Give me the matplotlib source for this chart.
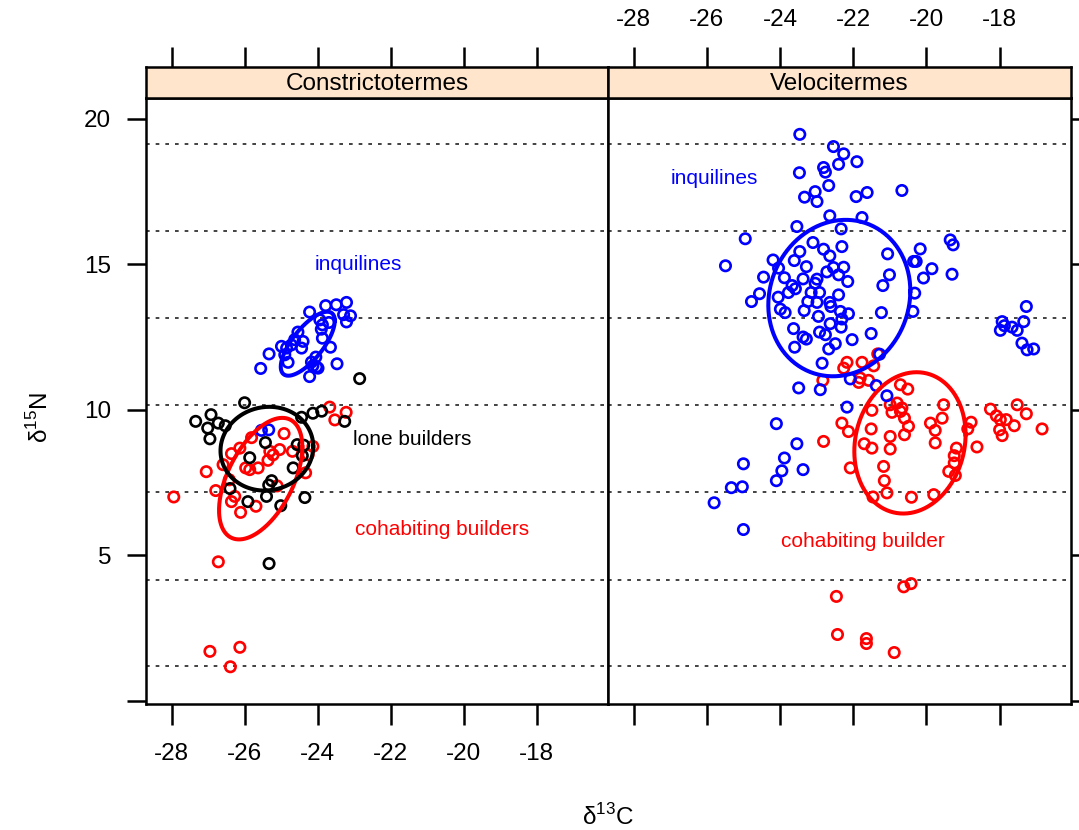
import numpy as np
import matplotlib
matplotlib.use('Agg')
import matplotlib.pyplot as plt

plt.rcParams['font.family'] = ['Liberation Sans', 'DejaVu Sans']
plt.rcParams['mathtext.fontset'] = 'custom'
plt.rcParams['mathtext.rm'] = 'Liberation Sans'
plt.rcParams['axes.unicode_minus'] = False

# ── Data (d13C, d15N) ─────────────────────────────────────────────────────────
# Constrictotermes
con_inq_x = [-23.21, -23.49, -23.78, -24.22, -23.29, -23.10, -23.21, -23.94, -23.87, -23.90,
             -23.69, -24.54, -24.63, -23.87, -24.40, -24.72, -24.99, -24.85, -24.44, -23.65,
             -25.33, -24.90, -24.05, -24.17, -24.81, -23.47, -25.56, -24.03, -24.13, -23.99,
             -24.22, -25.54, -25.34]
con_inq_y = [13.69, 13.61, 13.58, 13.36, 13.27, 13.23, 13.02, 13.09, 12.92, 12.77,
             13.00, 12.67, 12.41, 12.46, 12.35, 12.23, 12.18, 12.12, 12.12, 12.15,
             11.92, 11.89, 11.81, 11.64, 11.63, 11.58, 11.42, 11.47, 11.51, 11.43,
             11.14, 9.29, 9.31]

con_lone_x = [-22.85, -26.00, -27.34, -26.92, -26.72, -26.53, -27.01, -26.95, -25.43, -24.44,
              -24.13, -23.89, -23.26, -24.56, -24.38, -24.42, -25.86, -24.67, -25.26, -25.34,
              -25.40, -26.40, -25.91, -25.01, -24.35, -25.33]
con_lone_y = [11.07, 10.24, 9.60, 9.83, 9.54, 9.45, 9.37, 9.00, 8.87, 9.74,
              9.88, 9.95, 9.60, 8.80, 8.78, 8.42, 8.35, 8.00, 7.56, 7.41,
              7.02, 7.29, 6.84, 6.70, 6.98, 4.71]

con_coh_x = [-23.67, -23.22, -23.53, -24.92, -25.81, -26.13, -26.36, -25.31, -25.04, -25.22,
             -25.36, -24.69, -24.13, -24.26, -27.05, -26.59, -25.97, -25.86, -25.63, -24.33,
             -26.79, -26.42, -26.27, -26.36, -25.69, -26.11, -25.11, -27.94, -26.72, -26.95,
             -26.13, -26.39]
con_coh_y = [10.09, 9.91, 9.65, 9.18, 9.04, 8.68, 8.49, 8.57, 8.63, 8.45,
             8.26, 8.57, 8.74, 8.45, 7.87, 8.11, 8.00, 7.94, 8.00, 7.83,
             7.22, 7.59, 7.02, 6.84, 6.68, 6.47, 7.38, 7.00, 4.77, 1.69,
             1.83, 1.16]

# Velocitermes
vel_inq_x = [-23.46, -22.54, -22.26, -21.90, -22.40, -22.81, -22.76, -23.47, -22.67, -20.67,
             -21.62, -21.92, -23.04, -23.33, -22.99, -22.64, -21.76, -23.54, -22.33, -24.95,
             -23.10, -22.31, -22.81, -23.46, -22.64, -19.35, -19.27, -20.17, -21.06, -25.49,
             -24.19, -23.61, -20.35, -20.28, -24.04, -23.28, -22.54, -22.26, -22.72, -22.40,
             -22.15, -19.85, -19.30, -24.45, -23.88, -23.37, -22.99, -23.04, -21.01, -20.08,
             -21.19, -23.67, -23.58, -23.77, -23.15, -22.92, -24.56, -22.40, -24.05, -24.78,
             -23.24, -22.99, -22.64, -22.61, -20.32, -23.99, -23.86, -23.34, -22.35, -22.13,
             -21.23, -20.37, -22.95, -22.31, -22.63, -22.33, -23.63, -21.51, -22.92, -22.76,
             -23.37, -23.28, -22.03, -23.60, -22.49, -22.67, -21.28, -22.85, -23.49, -22.90,
             -22.08, -21.37, -21.08, -22.17,
             -17.27, -17.34, -17.93, -17.87, -17.66, -17.52, -17.98, -17.39, -17.25, -17.07,
             -24.10, -23.54, -23.88, -23.95, -23.37, -24.10, -25.00, -25.33, -25.03, -25.00,
             -25.80]
vel_inq_y = [19.47, 19.05, 18.80, 18.53, 18.44, 18.33, 18.17, 18.15, 17.71, 17.54,
             17.47, 17.33, 17.50, 17.31, 17.16, 16.67, 16.61, 16.30, 16.22, 15.88,
             15.75, 15.61, 15.52, 15.44, 15.29, 15.84, 15.67, 15.53, 15.36, 14.95,
             15.15, 15.13, 15.10, 15.10, 14.87, 14.92, 14.89, 14.90, 14.74, 14.64,
             14.41, 14.85, 14.66, 14.56, 14.54, 14.50, 14.49, 14.35, 14.64, 14.53,
             14.27, 14.27, 14.16, 14.03, 14.03, 14.03, 13.99, 13.95, 13.87, 13.72,
             13.72, 13.69, 13.69, 13.55, 14.01, 13.46, 13.34, 13.41, 13.38, 13.30,
             13.34, 13.38, 13.21, 13.12, 12.96, 12.84, 12.79, 12.62, 12.67, 12.58,
             12.50, 12.43, 12.41, 12.15, 12.27, 12.09, 11.91, 11.60, 10.75, 10.69,
             11.06, 10.83, 10.48, 10.09,
             13.55, 13.03, 13.03, 12.89, 12.84, 12.73, 12.73, 12.29, 12.06, 12.09,
             9.52, 8.83, 8.34, 7.90, 7.94, 7.56, 8.14, 7.32, 7.35, 5.88,
             6.80]

vel_coh_x = [-22.17, -22.26, -21.76, -21.44, -21.33, -22.83, -21.85, -21.58, -21.81, -20.71,
             -20.51, -21.49, -20.99, -20.80, -20.67, -20.94, -20.71, -20.60, -20.49, -20.60,
             -19.53, -19.57, -19.89, -19.76, -19.76, -22.31, -22.13, -21.51, -20.99, -22.81,
             -21.70, -21.49, -20.99, -22.08, -21.17, -21.15, -21.08, -21.46, -20.41, -19.80,
             -19.18, -19.24, -19.24, -19.39, -19.21, -18.78, -18.87, -18.62, -18.25, -18.09,
             -17.98, -17.82, -17.52, -17.27, -17.60, -18.00, -17.93, -16.84, -20.62, -20.42,
             -22.46, -22.43, -21.64, -21.64, -20.88]
vel_coh_y = [11.63, 11.43, 11.63, 11.51, 11.92, 11.01, 10.94, 11.01, 11.09, 10.86,
             10.71, 9.98, 10.17, 10.23, 10.06, 9.91, 9.94, 9.71, 9.43, 9.14,
             10.17, 9.71, 9.54, 9.29, 8.86, 9.54, 9.25, 9.34, 9.08, 8.91,
             8.83, 8.68, 8.65, 8.00, 8.05, 7.56, 7.14, 7.00, 6.99, 7.08,
             8.68, 8.42, 8.17, 7.88, 7.74, 9.57, 9.34, 8.72, 10.02, 9.79,
             9.66, 9.66, 10.17, 9.86, 9.45, 9.31, 9.11, 9.34, 3.91, 4.02,
             3.58, 2.27, 2.13, 1.96, 1.65]

# standard ellipses: centre x, centre y, sd x, sd y, correlation
ell_con_inq = [-24.27, 12.27, 0.74, 1.10, 0.72]
ell_con_lone = [-25.39, 8.66, 1.27, 1.44, 0.05]
ell_con_coh = [-25.56, 7.63, 1.14, 2.09, 0.52]
ell_vel_inq = [-22.38, 13.84, 1.94, 2.69, 0.09]
ell_vel_coh = [-20.45, 8.86, 1.52, 2.43, 0.12]

ref_levels = [1.17, 4.16, 7.18, 10.17, 13.16, 16.15, 19.14]

x_ticks = [-28, -26, -24, -22, -20, -18]
y_ticks = [0, 5, 10, 15, 20]
y_ticklabels = ['', '5', '10', '15', '20']

BLUE, RED, BLACK = '#0000FF', '#FF0000', '#000000'
STRIP_BG = '#FFE5CC'
XLIM = (-28.70, -16.05)
YLIM = (-0.12, 20.71)
FS = 17.5


def ellipse(ax, params, color):
    cx, cy, sx, sy, rho = params
    cov = np.array([[sx**2, rho * sx * sy], [rho * sx * sy, sy**2]])
    L = np.linalg.cholesky(cov)
    t = np.linspace(0, 2 * np.pi, 300)
    pts = L @ np.vstack([np.cos(t), np.sin(t)])
    ax.plot(cx + pts[0], cy + pts[1], color=color, lw=2.9, zorder=4)


def pts(ax, x, y, color):
    ax.scatter(x, y, s=56, facecolors='none', edgecolors=color, linewidths=1.9, zorder=3)


W, H = 1079, 830
fig = plt.figure(figsize=(W / 100, H / 100), dpi=100)

left, mid, right = 146, 608, 1071
top, bottom, strip_top = 98.3, 704, 66.7

axL = fig.add_axes([left / W, 1 - bottom / H, (mid - left) / W, (bottom - top) / H])
axR = fig.add_axes([mid / W, 1 - bottom / H, (right - mid) / W, (bottom - top) / H], sharey=axL)
sL = fig.add_axes([left / W, 1 - top / H, (mid - left) / W, (top - strip_top) / H], sharex=axL)
sR = fig.add_axes([mid / W, 1 - top / H, (right - mid) / W, (top - strip_top) / H], sharex=axR)

for ax in (axL, axR):
    for lv in ref_levels:
        ax.axhline(lv, color='#222222', lw=1.2, ls=(0, (2.2, 3.6)), zorder=1)
    ax.set_xlim(*XLIM)
    ax.set_ylim(*YLIM)
    ax.set_xticks(x_ticks)
    for sp in ax.spines.values():
        sp.set_linewidth(1.8)

# left panel
pts(axL, con_coh_x, con_coh_y, RED)
pts(axL, con_inq_x, con_inq_y, BLUE)
pts(axL, con_lone_x, con_lone_y, BLACK)
ellipse(axL, ell_con_coh, RED)
ellipse(axL, ell_con_inq, BLUE)
ellipse(axL, ell_con_lone, BLACK)
axL.text(-22.9, 15.0, 'inquilines', color=BLUE, fontsize=15, ha='center', va='center')
axL.text(-21.4, 8.97, 'lone builders', color=BLACK, fontsize=15, ha='center', va='center')
axL.text(-20.6, 5.88, 'cohabiting builders', color=RED, fontsize=15, ha='center', va='center')

# right panel
pts(axR, vel_coh_x, vel_coh_y, RED)
pts(axR, vel_inq_x, vel_inq_y, BLUE)
ellipse(axR, ell_vel_inq, BLUE)
ellipse(axR, ell_vel_coh, RED)
axR.text(-25.8, 17.94, 'inquilines', color=BLUE, fontsize=15, ha='center', va='center')
axR.text(-21.75, 5.46, 'cohabiting builder', color=RED, fontsize=15, ha='center', va='center')

# ticks
axL.set_yticks(y_ticks)
axL.set_yticklabels(y_ticklabels)
axL.tick_params(axis='y', left=True, right=False, direction='out', length=14, width=1.8,
                labelsize=FS, pad=11)
axL.tick_params(axis='x', bottom=True, top=False, direction='out', length=15, width=1.8,
                labelsize=FS, pad=13)
axR.tick_params(axis='y', left=False, right=True, labelleft=False, labelright=False,
                direction='out', length=14, width=1.8)
axR.tick_params(axis='x', bottom=True, labelbottom=False, direction='out', length=15, width=1.8)

for s, name in ((sL, 'Constrictotermes'), (sR, 'Velocitermes')):
    s.set_facecolor(STRIP_BG)
    s.set_yticks([])
    s.set_xticks(x_ticks)
    for sp in s.spines.values():
        sp.set_linewidth(1.8)
    s.text(0.5, 0.45, name, transform=s.transAxes, ha='center', va='center', fontsize=FS)
    s.tick_params(axis='x', bottom=False, labelbottom=False, top=True, direction='out',
                  length=14.5, width=1.8, labelsize=FS, pad=11)
sL.tick_params(axis='x', labeltop=False)
sR.tick_params(axis='x', labeltop=True)

fig.text(608 / W, 1 - 817 / H, 'δ$^{\\mathregular{13}}$C', ha='center', va='center', fontsize=FS)
fig.text(40 / W, 1 - 418 / H, 'δ$^{\\mathregular{15}}$N', ha='center', va='center',
         fontsize=FS, rotation=90)

fig.savefig('out.png', dpi=100)
